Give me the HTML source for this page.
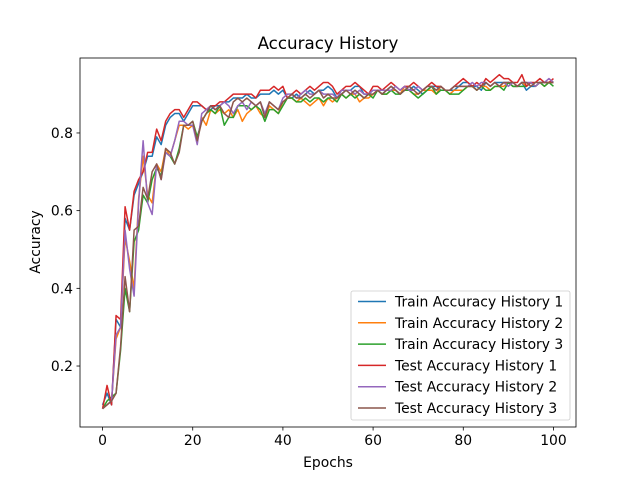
<!DOCTYPE html>
<html><head><meta charset="utf-8"><style>
body{margin:0;background:#fff}
svg{display:block;font-family:"DejaVu Sans","Liberation Sans",sans-serif}
</style></head><body>
<svg id="chart" width="640" height="480" viewBox="0 0 640 480">
<rect width="640" height="480" fill="#fff"/>
<text x="328" y="49" text-anchor="middle" font-size="16.7">Accuracy History</text>
<g id="plot"></g>
<rect x="80" y="58" width="496" height="369" fill="none" stroke="#000" stroke-width="0.8"/>
<g id="ticks"></g>
<text x="328" y="467" text-anchor="middle" font-size="13.9">Epochs</text>
<text transform="translate(40,242) rotate(-90)" text-anchor="middle" font-size="13.9">Accuracy</text>
<g id="legend"></g>
</svg>
<script>
const seriesNames=["Train Accuracy History 1","Train Accuracy History 2","Train Accuracy History 3","Test Accuracy History 1","Test Accuracy History 2","Test Accuracy History 3"];
const seriesColors=["#1f77b4","#ff7f0e","#2ca02c","#d62728","#9467bd","#8c564b"];
const xTicks=[0,20,40,60,80,100];
const yTicks=[0.2,0.4,0.6,0.8];
const train1=[.10,.13,.10,.32,.30,.58,.55,.64,.67,.70,.74,.74,.79,.77,.82,.84,.85,.85,.83,.85,.87,.87,.87,.86,.86,.87,.87,.88,.88,.89,
.89,.89,.90,.89,.89,.90,.90,.90,.91,.90,.91,.89,.89,.90,.89,.90,.91,.90,.91,.91,.92,.91,.89,.90,.91,.91,.92,.92,.90,.90,
.91,.91,.90,.91,.92,.91,.90,.91,.91,.92,.91,.90,.91,.92,.92,.91,.91,.91,.91,.92,.93,.93,.92,.92,.91,.93,.92,.93,.93,.93,.93,.92,.92,.93,.91,.92,.92,.93,.93,.93,.93];
const train2=[.09,.10,.11,.27,.30,.53,.47,.40,.63,.74,.64,.62,.72,.70,.76,.74,.78,.82,.82,.81,.82,.78,.84,.82,.86,.85,.86,.85,.86,.84,
.86,.83,.85,.86,.87,.85,.84,.87,.86,.85,.88,.89,.89,.88,.89,.88,.87,.88,.89,.87,.89,.88,.89,.90,.89,.90,.90,.88,.89,.89,
.90,.91,.90,.90,.91,.91,.90,.92,.91,.90,.90,.91,.91,.91,.90,.92,.91,.90,.91,.91,.91,.92,.92,.91,.92,.92,.91,.92,.92,.92,.93,.92,.92,.93,.92,.93,.92,.93,.92,.93,.93];
const train3=[.09,.11,.12,.13,.24,.40,.34,.52,.55,.64,.62,.68,.71,.69,.75,.74,.72,.76,.82,.82,.83,.79,.83,.85,.86,.85,.87,.82,.84,.84,
.87,.87,.87,.86,.87,.86,.83,.86,.86,.85,.87,.89,.89,.88,.88,.89,.88,.89,.89,.88,.89,.89,.88,.90,.89,.90,.89,.90,.89,.90,
.89,.91,.90,.90,.91,.90,.90,.91,.91,.90,.89,.90,.91,.92,.90,.91,.91,.90,.90,.90,.91,.92,.92,.91,.92,.91,.91,.92,.92,.91,.93,.92,.92,.92,.92,.93,.92,.93,.92,.93,.92];
const test1=[.09,.15,.10,.33,.32,.61,.55,.65,.68,.70,.75,.75,.81,.78,.83,.85,.86,.86,.84,.86,.88,.88,.87,.86,.87,.87,.88,.88,.89,.90,
.90,.90,.90,.90,.89,.91,.91,.91,.92,.91,.92,.89,.90,.91,.90,.91,.92,.91,.92,.93,.93,.92,.90,.91,.92,.92,.93,.92,.91,.90,
.92,.92,.91,.92,.93,.92,.91,.92,.92,.93,.92,.91,.92,.93,.92,.92,.91,.91,.92,.93,.94,.93,.92,.93,.92,.94,.93,.94,.95,.94,.94,.93,.93,.95,.92,.93,.93,.94,.93,.93,.94];
const test2=[.09,.10,.11,.28,.30,.55,.45,.38,.62,.78,.62,.59,.72,.68,.75,.74,.78,.83,.83,.82,.82,.77,.85,.86,.87,.86,.87,.88,.87,.85,
.87,.88,.86,.88,.87,.88,.85,.88,.87,.86,.89,.90,.90,.89,.90,.91,.90,.90,.91,.90,.90,.90,.89,.91,.91,.91,.90,.91,.90,.90,
.91,.91,.91,.91,.91,.92,.91,.92,.91,.91,.92,.91,.92,.92,.91,.92,.91,.91,.92,.92,.92,.92,.93,.92,.93,.93,.92,.93,.92,.93,.92,.93,.92,.93,.93,.93,.92,.93,.93,.94,.93];
const test3=[.09,.10,.11,.13,.25,.43,.34,.55,.56,.66,.63,.70,.72,.68,.76,.75,.72,.75,.82,.82,.83,.78,.83,.85,.87,.86,.87,.85,.84,.88,
.89,.88,.89,.88,.87,.88,.84,.88,.87,.86,.88,.89,.90,.89,.89,.90,.89,.90,.91,.89,.90,.89,.89,.90,.91,.90,.91,.90,.89,.90,
.90,.91,.90,.91,.92,.91,.90,.91,.92,.91,.90,.91,.92,.92,.91,.92,.91,.91,.92,.92,.92,.92,.92,.91,.92,.93,.92,.93,.92,.93,.93,.93,.92,.93,.93,.92,.93,.93,.93,.93,.93];
const allSeries=[train1,train2,train3,test1,test2,test3];
const L=80,R=576,T=58,B=427,xMin=-5,xMax=105,yMin=0.043,yMax=0.993;
function xs(v){return L+(v-xMin)/(xMax-xMin)*(R-L);}
function ys(v){return B-(v-yMin)/(yMax-yMin)*(B-T);}
const NS="http://www.w3.org/2000/svg";
function mk(tag,attrs,parent){const e=document.createElementNS(NS,tag);for(const k in attrs)e.setAttribute(k,attrs[k]);parent.appendChild(e);return e;}
const plot=document.getElementById('plot');
allSeries.forEach((s,i)=>{
  const d=s.map((v,j)=>(j?'L':'M')+xs(j).toFixed(2)+' '+ys(v).toFixed(2)).join(' ');
  const p=mk('path',{d:d,fill:'none',stroke:seriesColors[i],'stroke-width':1.5,'stroke-linejoin':'round'},plot);
  
  
});
const ticks=document.getElementById('ticks');
xTicks.forEach(t=>{
  const x=xs(t);
  const l=mk('line',{x1:x,x2:x,y1:B,y2:B+3.5,stroke:'#000','stroke-width':0.8},ticks);
  
  
  const tx=mk('text',{x:x,y:B+18,'text-anchor':'middle','font-size':13.9},ticks);
  tx.textContent=t;
  
  
});
yTicks.forEach(t=>{
  const y=ys(t);
  const l=mk('line',{x1:L-3.5,x2:L,y1:y,y2:y,stroke:'#000','stroke-width':0.8},ticks);
  
  
  const tx=mk('text',{x:L-7,y:y+5,'text-anchor':'end','font-size':13.9},ticks);
  tx.textContent=t.toFixed(1);
  
  
});
const lg=document.getElementById('legend');
const box=mk('rect',{x:351,y:291,width:219,height:129,rx:2,fill:'#fff','fill-opacity':0.8,stroke:'#ccc','stroke-width':0.8},lg);


seriesNames.forEach((n,i)=>{
  const y=301.5+i*21.3;
  const l=mk('line',{x1:358,x2:386,y1:y,y2:y,stroke:seriesColors[i],'stroke-width':1.5},lg);
  
  
  const t=mk('text',{x:395,y:y+5,'font-size':13.9},lg);
  t.textContent=n;
  
  
});
</script>
</body></html>
